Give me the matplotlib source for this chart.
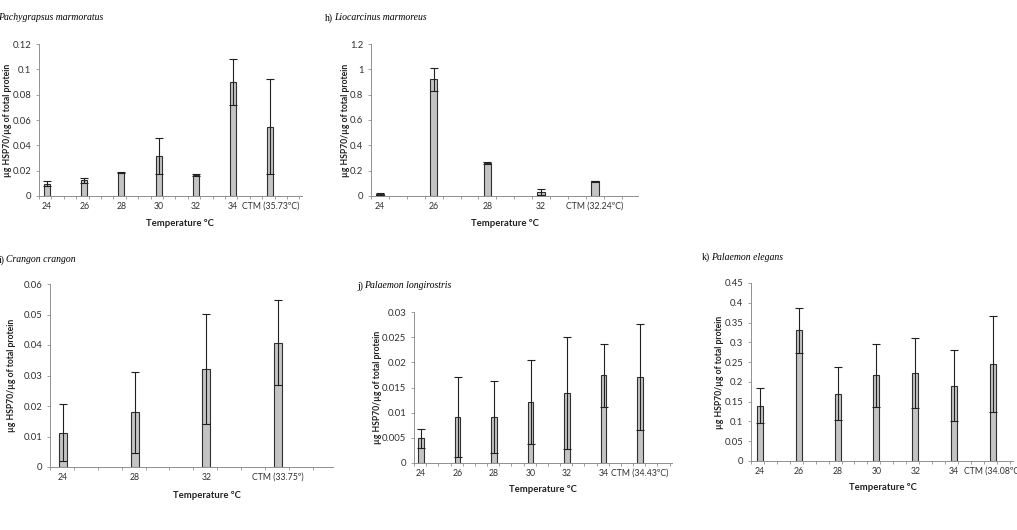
import matplotlib
matplotlib.use("Agg")
import matplotlib.pyplot as plt
import numpy as np

W, H = 1017, 530

# ---- data ----
g_labels = ["24", "26", "28", "30", "32", "34", "CTM (35.73ºC)"]
g_values = [0.0095, 0.0125, 0.0185, 0.0315, 0.0165, 0.090, 0.0545]
g_errors = [0.002, 0.002, 0.0005, 0.0145, 0.001, 0.018, 0.0375]

h_labels = ["24", "26", "28", "32", "CTM (32.24ºC)"]
h_values = [0.015, 0.92, 0.26, 0.03, 0.115]
h_errors = [0.005, 0.09, 0.01, 0.022, 0.005]

i_labels = ["24", "28", "32", "CTM (33.75º)"]
i_values = [0.0113, 0.018, 0.0322, 0.0407]
i_errors = [0.0092, 0.0133, 0.018, 0.0139]

j_labels = ["24", "26", "28", "30", "32", "34", "CTM (34.43ºC)"]
j_values = [0.0049, 0.0091, 0.0091, 0.0121, 0.0139, 0.0174, 0.0171]
j_errors = [0.0019, 0.0080, 0.0071, 0.0084, 0.0112, 0.0062, 0.0106]

k_labels = ["24", "26", "28", "30", "32", "34", "CTM (34.08ºC)"]
k_values = [0.14, 0.33, 0.17, 0.217, 0.222, 0.19, 0.245]
k_errors = [0.044, 0.056, 0.067, 0.080, 0.088, 0.090, 0.121]

panels = [
    dict(prefix="g)", species="Pachygrapsus marmoratus", labels=g_labels, values=g_values, errors=g_errors,
         ymax=0.12, ystep=0.02,
         box=(39, 302, 44, 196), first=47, spacing=37.2, bw=0.16,
         species_xy=(-2, 18), xlab_xy=(180, 223), ylab_x=8),
    dict(prefix="h)", species="Liocarcinus marmoreus", labels=h_labels, values=h_values, errors=h_errors,
         ymax=1.2, ystep=0.2,
         box=(371, 638, 44, 196), first=380, spacing=53.7, bw=0.14,
         species_xy=(334, 18), xlab_xy=(505, 223), ylab_x=345),
    dict(prefix="i)", species="Crangon crangon", labels=i_labels, values=i_values, errors=i_errors,
         ymax=0.06, ystep=0.01,
         box=(50, 333, 284, 467), first=63, spacing=71.7, bw=0.11,
         species_xy=(6, 260), xlab_xy=(207, 495), ylab_x=12),
    dict(prefix="j)", species="Palaemon longirostris", labels=j_labels, values=j_values, errors=j_errors,
         ymax=0.03, ystep=0.005,
         box=(414, 672, 312, 463), first=421, spacing=36.5, bw=0.14,
         species_xy=(364, 286), xlab_xy=(543, 490), ylab_x=378),
    dict(prefix="k)", species="Palaemon elegans", labels=k_labels, values=k_values, errors=k_errors,
         ymax=0.45, ystep=0.05,
         box=(751, 1013, 283, 461), first=760, spacing=38.8, bw=0.15,
         species_xy=(711, 257), xlab_xy=(883, 488), ylab_x=720),
]

sans = ["Lato", "DejaVu Sans"]
serif = ["Liberation Serif", "DejaVu Serif"]

fig = plt.figure(figsize=(W / 100, H / 100), dpi=100)
fig.patch.set_facecolor("white")

for p in panels:
    l, r, t, b = p["box"]
    ax = fig.add_axes([l / W, 1 - b / H, (r - l) / W, (b - t) / H])
    n = len(p["values"])
    x = np.arange(n)
    x_left = (l - p["first"]) / p["spacing"]
    x_right = (r - p["first"]) / p["spacing"]
    ax.bar(x, p["values"], width=p["bw"], color="#c4c4c4", edgecolor="#303030", linewidth=0.8, zorder=2)
    ax.errorbar(x, p["values"], yerr=p["errors"], fmt="none", ecolor="#202020",
                elinewidth=0.8, capsize=2.6, capthick=0.8, zorder=3)
    ax.set_xlim(x_left, x_right)
    ax.set_ylim(0, p["ymax"])
    yt = np.arange(0, p["ymax"] + p["ystep"] / 2, p["ystep"])
    ax.set_yticks(yt)
    ax.set_yticklabels(["0" if abs(v) < 1e-12 else f"{v:.10g}" for v in yt], fontsize=6.8,
                       family=sans, color="#303030")
    ax.set_xticks(x)
    ax.set_xticklabels(p["labels"], fontsize=6.3, family=sans, color="#303030")
    minor = np.arange(x_left, x_right + 1e-6, 1 / 3)
    ax.set_xticks(minor, minor=True)
    ax.tick_params(axis="x", which="major", length=0, pad=4)
    ax.tick_params(axis="x", which="minor", length=2.5, width=0.6, color="#909090", direction="out")
    ax.tick_params(axis="y", length=2.5, width=0.6, color="#909090", pad=3)
    for s in ("top", "right"):
        ax.spines[s].set_visible(False)
    for s in ("left", "bottom"):
        ax.spines[s].set_color("#909090")
        ax.spines[s].set_linewidth(0.7)
    ax.set_facecolor("none")

    # titles: upright prefix then italic species
    sx, sy = p["species_xy"]
    fig.text((sx - 1) / W, 1 - sy / H, p["prefix"], fontsize=7, family=serif,
             va="center", ha="right")
    fig.text(sx / W, 1 - sy / H, p["species"], fontsize=7, family=serif,
             style="italic", va="center", ha="left")
    # x label
    xx, xy = p["xlab_xy"]
    fig.text(xx / W, 1 - xy / H, "Temperature ºC", fontsize=6.8, family=sans, weight="bold",
             ha="center", va="center", color="#202020")
    # y label
    fig.text(p["ylab_x"] / W, 1 - ((t + b) / 2) / H, "µg HSP70/µg of total protein", fontsize=6.2,
             family=sans, weight="bold", rotation=90, ha="center", va="center", color="#202020")

fig.savefig("out.png", dpi=100, facecolor="white")
